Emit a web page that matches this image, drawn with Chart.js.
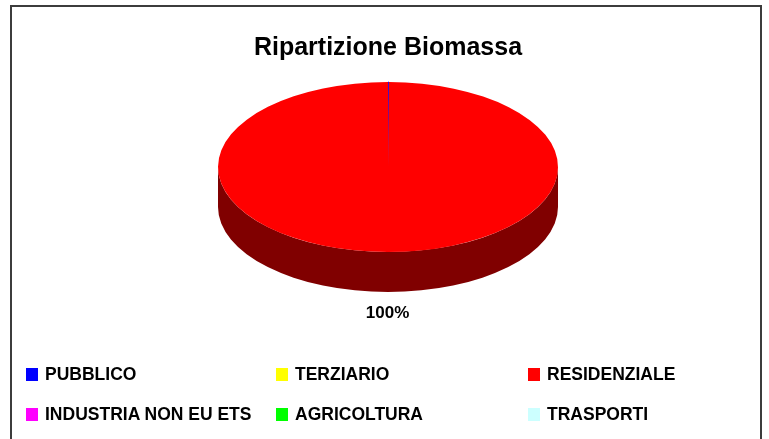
<!DOCTYPE html>
<html>
<head>
<meta charset="utf-8">
<title>Ripartizione Biomassa</title>
<script src="https://cdn.jsdelivr.net/npm/chart.js@4.4.1/dist/chart.umd.min.js"></script>
<style>
    body{ margin:0; background:#fff; font-family:"Liberation Sans", Arial, sans-serif; }
    .wrap{ position:relative; width:769px; height:439px; overflow:hidden; }
    .frame{ position:absolute; left:10px; top:5px; width:748px; height:460px; border:2px solid #3c3c3c; }
    canvas{ position:absolute; left:0; top:0; }
    .item{ position:absolute; height:20px; font-weight:bold; font-size:17.5px; line-height:20px; color:#000; white-space:nowrap; }
    .item i{ position:absolute; left:0; top:4px; width:12px; height:13px; }
    .item span{ position:absolute; left:19px; top:0; }
</style>
</head>
<body>
<div class="wrap">
    <div class="frame"></div>
    <canvas id="myChart" width="769" height="439"></canvas>
    <div id="legend"></div>
</div>
<script>

    const titolo = 'Ripartizione Biomassa'
    const settori = ['PUBBLICO', 'TERZIARIO', 'RESIDENZIALE', 'INDUSTRIA NON EU ETS', 'AGRICOLTURA', 'TRASPORTI']
    const valori = [0.08, 0, 99.92, 0, 0, 0]
    const colori = ['#0000FF', '#FFFF00', '#FF0000', '#FF00FF', '#00FF00', '#CCFFFF']

    // legenda 3 colonne x 2 righe
    const colX = [26, 276, 528]
    const rowY = [364, 404]
    const leg = document.getElementById('legend')
    settori.forEach((s, i) => {
        const d = document.createElement('div')
        d.className = 'item'
        d.style.left = colX[i % 3] + 'px'
        d.style.top = rowY[Math.floor(i / 3)] + 'px'
        d.innerHTML = '<i style="background:' + colori[i] + '"></i><span>' + s + '</span>'
        leg.appendChild(d)
    })

    function scuro(hex){
        const n = parseInt(hex.slice(1), 16)
        const r = (n >> 16) & 255, g = (n >> 8) & 255, b = n & 255
        return 'rgb(' + Math.round(r * 0.5) + ',' + Math.round(g * 0.5) + ',' + Math.round(b * 0.5) + ')'
    }

    const schiaccia = 0.5   // rapporto ellisse
    const spessore = 40     // altezza del bordo 3d

    const torta3d = {
        id: 'torta3d',
        beforeDatasetsDraw(chart){
            const ctx = chart.ctx
            const arcs = chart.getDatasetMeta(0).data
            if(!arcs.length) return
            const cx = arcs[0].x, cy = arcs[0].y
            // lato visibile (metà davanti)
            arcs.forEach((a, i) => {
                const r = a.outerRadius
                for(const off of [0, Math.PI * 2, -Math.PI * 2]){
                    const s = Math.max(a.startAngle, off)
                    const e = Math.min(a.endAngle, off + Math.PI)
                    if(e <= s) continue
                    ctx.save()
                    ctx.beginPath()
                    ctx.ellipse(cx, cy, r, r * schiaccia, 0, s, e)
                    ctx.ellipse(cx, cy + spessore, r, r * schiaccia, 0, e, s, true)
                    ctx.closePath()
                    ctx.fillStyle = scuro(colori[i])
                    ctx.fill()
                    ctx.restore()
                }
            })
            ctx.save()
            ctx.translate(cx, cy)
            ctx.scale(1, schiaccia)
            ctx.translate(-cx, -cy)
        },
        afterDatasetsDraw(chart){
            const ctx = chart.ctx
            ctx.restore()
            const arcs = chart.getDatasetMeta(0).data
            const tot = valori.reduce((p, v) => p + v, 0)
            ctx.save()
            ctx.font = 'bold 17px "Liberation Sans", Arial, sans-serif'
            ctx.fillStyle = '#000'
            ctx.textAlign = 'center'
            ctx.textBaseline = 'middle'
            arcs.forEach((a, i) => {
                const pct = Math.round(valori[i] / tot * 100)
                if(pct < 1) return
                const mid = (a.startAngle + a.endAngle) / 2
                const r = a.outerRadius
                const x = a.x + Math.cos(mid) * (r + 16)
                const y = a.y + Math.sin(mid) * (r * schiaccia + 21) + (Math.sin(mid) > 0 ? spessore : 0)
                ctx.fillText(pct + '%', x, y)
            })
            ctx.restore()
        }
    }

    const ctx = document.getElementById('myChart')

    const chart = new Chart(ctx, {
        type: 'pie',
        data: {
            labels: settori,
            datasets: [{
                data: valori,
                backgroundColor: colori,
                borderColor: colori,
                borderWidth: [1, 0, 0, 0, 0, 0],
                radius: 170,
                clip: false
            }]
        },
        options: {
            responsive: false,
            animation: false,
            layout: { padding: { left: 17, right: 10, top: 0, bottom: 168 } },
            plugins: {
                legend: { display: false },
                tooltip: { enabled: false },
                title: {
                    display: true,
                    text: titolo,
                    color: '#000',
                    font: { family: '"Liberation Sans", Arial, sans-serif', size: 25, weight: 'bold', lineHeight: 1.2 },
                    padding: { top: 33, bottom: 0 }
                }
            }
        },
        plugins: [torta3d]
    })

</script>
</body>
</html>
